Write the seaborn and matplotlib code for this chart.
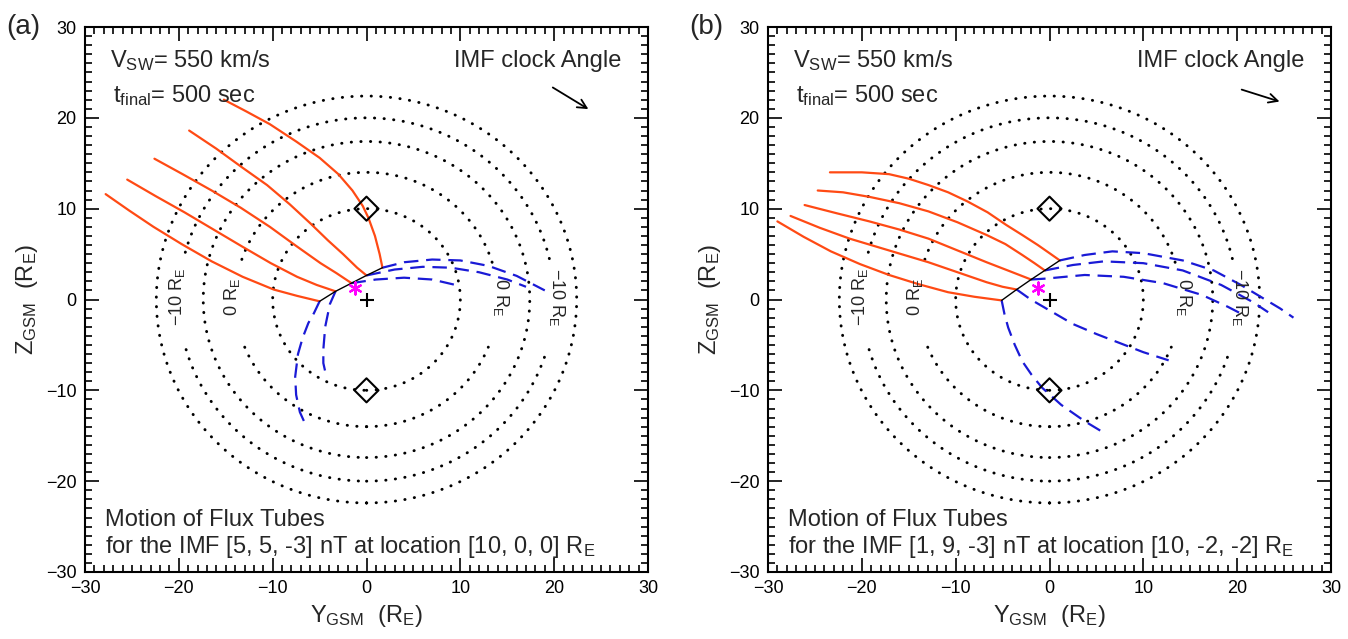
import numpy as np
import pandas as pd
import matplotlib
matplotlib.use("Agg")
import matplotlib.pyplot as plt
import seaborn as sns
from matplotlib.ticker import MultipleLocator

# =========================
# Data (R_E)
# =========================
ring_radii = [10, 14, 17.4, 20, 22.4]
# gaps (deg) left open for the X labels
ring_gaps = {14: [(-22, 17), (163, 202)], 20: [(-16, 13), (167, 196)]}
ring_labels = ["\u221210 R$_\\mathrm{E}$", "0 R$_\\mathrm{E}$", "0 R$_\\mathrm{E}$", "\u221210 R$_\\mathrm{E}$"]
ring_label_x = [-20.2, -14.3, 14.3, 20.3]
ring_label_rot = [90, 90, 270, 270]

cusp_y = [0, 0]
cusp_z = [10, -10]

# panel (a): IMF [5, 5, -3]
a_north = [
    [(1.7, 3.5), (1.4, 5.0), (0.9, 7.0), (0.2, 9.0), (-0.4, 10.3), (-1.5, 12.0), (-3.0, 13.8),
     (-5.0, 15.6), (-7.5, 17.4), (-10.3, 19.3), (-12.8, 20.7), (-15.2, 22.0)],
    [(0.0, 2.65), (-1.0, 3.5), (-2.5, 5.0), (-4.1, 6.5), (-6.0, 8.4), (-8.2, 10.5), (-10.6, 12.6),
     (-13.2, 14.5), (-16.0, 16.6), (-18.9, 18.6)],
    [(-1.6, 1.8), (-3.2, 2.9), (-4.9, 4.0), (-7.5, 5.9), (-10.3, 8.0), (-13.4, 10.1), (-16.5, 12.0),
     (-19.6, 13.8), (-22.6, 15.5)],
    [(-3.3, 0.9), (-5.3, 1.6), (-7.4, 2.5), (-10.2, 4.0), (-13.2, 5.8), (-16.3, 7.7), (-19.4, 9.6),
     (-22.5, 11.4), (-25.5, 13.2)],
    [(-5.0, -0.2), (-7.4, 0.4), (-9.9, 1.1), (-13.2, 2.5), (-16.5, 4.2), (-19.7, 6.1), (-22.7, 8.0),
     (-25.3, 9.8), (-27.8, 11.6)],
]
a_south = [
    [(1.7, 3.5), (4.0, 4.1), (7.0, 4.4), (10.0, 4.3), (13.0, 3.7), (16.0, 2.6), (19.0, 1.0)],
    [(0.0, 2.65), (3.0, 3.3), (6.0, 3.6), (9.0, 3.5), (12.0, 3.0), (15.0, 2.2), (17.0, 1.4)],
    [(-1.6, 1.8), (1.0, 2.2), (4.0, 2.4), (7.0, 2.2), (9.5, 1.6)],
    [(-3.3, 0.9), (-3.9, -0.5), (-4.4, -3.0), (-4.6, -5.5), (-4.6, -7.0), (-4.3, -8.4)],
    [(-5.0, -0.2), (-5.6, -1.5), (-6.2, -2.6), (-6.8, -4.2), (-7.3, -6.0), (-7.6, -8.5),
     (-7.5, -10.5), (-7.1, -12.4), (-6.4, -14.0)],
]
a_star = (-1.2, 1.3)
a_arrow = [(19.6, 23.5), (23.9, 20.8)]
a_imf = "for the IMF [5, 5, -3] nT at location [10, 0, 0] R$_\\mathrm{E}$"

# panel (b): IMF [1, 9, -3]
b_north = [
    [(1.1, 4.3), (0.0, 5.1), (-1.25, 6.0), (-2.9, 7.1), (-4.6, 8.2), (-6.6, 9.6), (-8.75, 10.8),
     (-10.8, 11.8), (-12.9, 12.6), (-15.0, 13.3), (-17.1, 13.8), (-20.0, 14.0), (-23.4, 14.0)],
    [(-0.5, 3.2), (-1.6, 4.0), (-2.9, 4.9), (-4.7, 6.1), (-6.7, 7.1), (-9.8, 8.5), (-12.9, 9.7),
     (-16.0, 10.6), (-19.2, 11.3), (-22.0, 11.8), (-24.7, 12.0)],
    [(-1.96, 2.2), (-4.2, 3.1), (-6.7, 4.1), (-9.8, 5.4), (-12.9, 6.7), (-16.0, 7.7), (-19.2, 8.6),
     (-22.7, 9.5), (-26.1, 10.4)],
    [(-3.5, 1.1), (-5.0, 1.4), (-6.7, 1.9), (-9.8, 3.0), (-12.9, 4.1), (-17.1, 5.4), (-21.3, 6.7),
     (-24.5, 7.9), (-27.6, 9.2)],
    [(-5.1, -0.1), (-8.0, 0.3), (-10.8, 0.8), (-14.0, 1.7), (-17.1, 2.7), (-20.2, 3.9), (-23.3, 5.3),
     (-26.2, 6.9), (-29.0, 8.6)],
]
b_south = [
    [(1.1, 4.3), (3.75, 4.9), (6.7, 5.3), (10.0, 5.1), (14.2, 4.3), (17.5, 3.2), (20.4, 1.6),
     (24.6, -1.0), (26.0, -2.0)],
    [(-0.5, 3.2), (2.5, 3.8), (5.8, 4.2), (10.0, 4.0), (14.2, 3.2), (18.3, 1.6), (21.7, -0.3),
     (23.3, -1.4)],
    [(-1.96, 2.2), (-0.4, 2.3), (3.75, 2.7), (7.9, 2.5), (12.1, 1.8), (16.25, 0.5), (19.0, -0.8),
     (20.5, -1.6)],
    [(-3.5, 1.1), (-2.0, 0.0), (0.0, -1.2), (2.5, -2.7), (5.0, -3.8), (7.5, -4.8), (10.0, -5.8),
     (12.7, -6.7)],
    [(-5.1, -0.1), (-4.8, -1.6), (-4.4, -3.1), (-3.7, -5.0), (-2.9, -6.8), (-1.9, -8.3),
     (-0.8, -9.7), (1.25, -11.6), (3.75, -13.4), (6.0, -14.8)],
]
b_star = (-1.25, 1.3)
b_arrow = [(20.2, 23.2), (24.8, 21.7)]
b_imf = "for the IMF [1, 9, -3] nT at location [10, -2, -2] R$_\\mathrm{E}$"

# =========================
# Style
# =========================
sns.set_theme(style="ticks")
plt.rcParams['font.family'] = ['Liberation Sans', 'DejaVu Sans']
plt.rcParams['mathtext.fontset'] = 'custom'
plt.rcParams['mathtext.rm'] = 'Liberation Sans'
plt.rcParams['mathtext.it'] = 'Liberation Sans:italic'

orange = "#ff4a14"
blue = "#1a1ad6"


def to_frame(lines):
    rows = []
    for i, pts in enumerate(lines):
        for y, z in pts:
            rows.append({"line": i, "y": y, "z": z})
    return pd.DataFrame(rows)


def draw_rings(ax):
    for r in ring_radii:
        gaps = ring_gaps.get(r, [])
        # split the circle into the visible pieces
        edges = [(-90, 270)]
        for g0, g1 in gaps:
            new = []
            for e0, e1 in edges:
                if g1 <= e0 or g0 >= e1:
                    new.append((e0, e1))
                else:
                    if g0 > e0:
                        new.append((e0, g0))
                    if g1 < e1:
                        new.append((g1, e1))
            edges = new
        for e0, e1 in edges:
            t = np.radians(np.linspace(e0, e1, 400))
            ax.plot(r * np.cos(t), r * np.sin(t), color="black",
                    linestyle=(0, (0.1, 3.2)), lw=2.1, dash_capstyle="round")
    for lab, x, rot in zip(ring_labels, ring_label_x, ring_label_rot):
        ax.text(x, 0.3, lab, rotation=rot, ha="center", va="center", fontsize=13)


def draw_panel(ax, north, south, star, arrow, imf, tag):
    draw_rings(ax)

    n = to_frame(north)
    s = to_frame(south)
    sns.lineplot(data=n, x="y", y="z", units="line", estimator=None, sort=False,
                 color=orange, lw=1.6, ax=ax)
    sns.lineplot(data=s, x="y", y="z", units="line", estimator=None, sort=False,
                 color=blue, lw=1.6, linestyle=(0, (6.5, 3.5)), ax=ax)

    # black line joining the foot points
    feet = pd.DataFrame([pts[0] for pts in north], columns=["y", "z"])
    sns.lineplot(data=feet, x="y", y="z", sort=False, color="black", lw=1.0, ax=ax)

    ax.scatter(cusp_y, cusp_z, marker="D", s=150, facecolors="none",
               edgecolors="black", linewidths=1.5, zorder=5)
    ax.scatter([0], [0], marker="+", s=90, color="black", linewidths=1.5, zorder=5)
    ax.scatter([star[0]], [star[1]], marker=(6, 2, 0), s=75, color="magenta",
               linewidths=1.6, zorder=6)

    ax.annotate("", xy=arrow[1], xytext=arrow[0],
                arrowprops=dict(arrowstyle="->", lw=1.3, color="black", mutation_scale=16))

    ax.text(-27.3, 26.3, "V$_\\mathrm{SW}$= 550 km/s", fontsize=17, va="center")
    ax.text(-27.0, 22.4, "t$_\\mathrm{final}$= 500 sec", fontsize=17, va="center")
    ax.text(27.2, 26.3, "IMF clock Angle", fontsize=17, va="center", ha="right")
    ax.text(-27.9, -24.3, "Motion of Flux Tubes", fontsize=17, va="center")
    ax.text(-27.9, -27.2, imf, fontsize=17, va="center")

    ax.set_xlim(-30, 30)
    ax.set_ylim(-30, 30)
    ax.set_xticks(range(-30, 31, 10))
    ax.set_yticks(range(-30, 31, 10))
    ax.xaxis.set_minor_locator(MultipleLocator(1))
    ax.yaxis.set_minor_locator(MultipleLocator(1))
    ax.tick_params(which="both", direction="in", top=True, right=True, width=1.2,
                   labelsize=13, colors="black")
    ax.tick_params(which="major", length=10, pad=6)
    ax.tick_params(which="minor", length=5)
    for sp in ax.spines.values():
        sp.set_linewidth(1.5)
        sp.set_color("black")
    ax.set_xlabel("Y$_\\mathrm{GSM}$  (R$_\\mathrm{E}$)", fontsize=17, labelpad=4)
    ax.set_ylabel("Z$_\\mathrm{GSM}$  (R$_\\mathrm{E}$)", fontsize=17, labelpad=4)
    ax.text(-0.14, 1.0, tag, transform=ax.transAxes, fontsize=20, va="center", ha="left")


fig = plt.figure(figsize=(13.48, 6.39), dpi=100)
ax_a = fig.add_axes([85 / 1348, 1 - 572 / 639, 563 / 1348, 545 / 639])
ax_b = fig.add_axes([768 / 1348, 1 - 572 / 639, 563 / 1348, 545 / 639])

draw_panel(ax_a, a_north, a_south, a_star, a_arrow, a_imf, "(a)")
draw_panel(ax_b, b_north, b_south, b_star, b_arrow, b_imf, "(b)")

fig.savefig("out.png", dpi=100)
